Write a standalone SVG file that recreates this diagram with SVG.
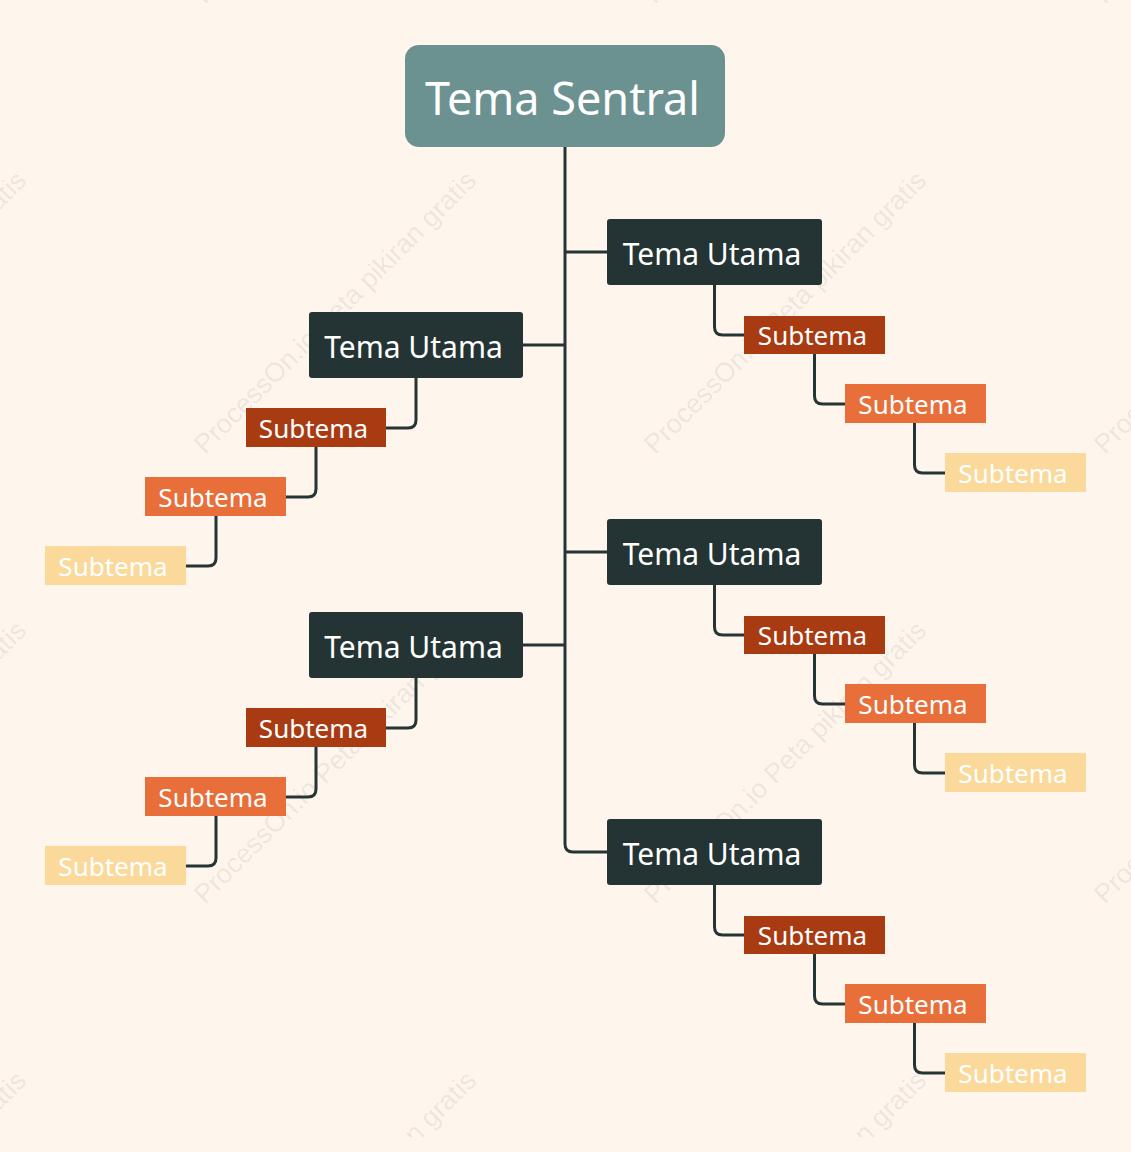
<svg xmlns="http://www.w3.org/2000/svg" width="1131" height="1152" viewBox="0 0 1131 1152">
<style>
.wm{font-family:"Liberation Sans",Arial,sans-serif;font-size:27px;fill:#000;fill-opacity:0.08}
.central{fill:#6b9290}
.main{fill:#243434}
.s1{fill:#a93b12}
.s2{fill:#e86e3a}
.s3{fill:#fad99b}
.t{font-family:"Noto Sans","Open Sans",sans-serif;fill:#ffffff;text-anchor:middle}
.tc{font-size:45px}
.tm{font-size:30px}
.ts{font-size:26px}
.ln{fill:none;stroke:#253535;stroke-width:3}
</style>
<defs><clipPath id="wmclip"><rect x="0" y="0" width="1131" height="1137"/></clipPath></defs>
<rect width="1131" height="1152" fill="#fef5ed"/>
<g id="watermarks" clip-path="url(#wmclip)">
<text class="wm" transform="translate(-245,5) rotate(-45)">ProcessOn.io Peta pikiran gratis</text>
<text class="wm" transform="translate(205,5) rotate(-45)">ProcessOn.io Peta pikiran gratis</text>
<text class="wm" transform="translate(655,5) rotate(-45)">ProcessOn.io Peta pikiran gratis</text>
<text class="wm" transform="translate(1105,5) rotate(-45)">ProcessOn.io Peta pikiran gratis</text>
<text class="wm" transform="translate(-245,455) rotate(-45)">ProcessOn.io Peta pikiran gratis</text>
<text class="wm" transform="translate(205,455) rotate(-45)">ProcessOn.io Peta pikiran gratis</text>
<text class="wm" transform="translate(655,455) rotate(-45)">ProcessOn.io Peta pikiran gratis</text>
<text class="wm" transform="translate(1105,455) rotate(-45)">ProcessOn.io Peta pikiran gratis</text>
<text class="wm" transform="translate(-245,905) rotate(-45)">ProcessOn.io Peta pikiran gratis</text>
<text class="wm" transform="translate(205,905) rotate(-45)">ProcessOn.io Peta pikiran gratis</text>
<text class="wm" transform="translate(655,905) rotate(-45)">ProcessOn.io Peta pikiran gratis</text>
<text class="wm" transform="translate(1105,905) rotate(-45)">ProcessOn.io Peta pikiran gratis</text>
<text class="wm" transform="translate(-245,1355) rotate(-45)">ProcessOn.io Peta pikiran gratis</text>
<text class="wm" transform="translate(205,1355) rotate(-45)">ProcessOn.io Peta pikiran gratis</text>
<text class="wm" transform="translate(655,1355) rotate(-45)">ProcessOn.io Peta pikiran gratis</text>
</g>
<g id="connectors">
<path class="ln" d="M565,147 V844 Q565,852 573,852 H607"/>
<path class="ln" d="M565,252 H607 M523,345 H565 M565,552 H607 M523,645 H565"/>
<path class="ln" d="M714.5,285 V327 Q714.5,335 722.5,335 H744 M814.5,354 V396 Q814.5,404 822.5,404 H845 M914.5,423 V465 Q914.5,473 922.5,473 H945"/>
<path class="ln" d="M714.5,585 V627 Q714.5,635 722.5,635 H744 M814.5,654 V696 Q814.5,704 822.5,704 H845 M914.5,723 V765 Q914.5,773 922.5,773 H945"/>
<path class="ln" d="M714.5,885 V927 Q714.5,935 722.5,935 H744 M814.5,954 V996 Q814.5,1004 822.5,1004 H845 M914.5,1023 V1065 Q914.5,1073 922.5,1073 H945"/>
<path class="ln" d="M416,378 V420 Q416,428 408,428 H386 M316,447 V489 Q316,497 308,497 H286 M216,516 V558 Q216,566 208,566 H186"/>
<path class="ln" d="M416,678 V720 Q416,728 408,728 H386 M316,747 V789 Q316,797 308,797 H286 M216,816 V858 Q216,866 208,866 H186"/>
</g>
<g id="central"><rect class="central" x="405" y="45" width="320" height="102" rx="14"/><text class="t tc" x="562.5" y="115">Tema Sentral</text></g>
<g id="r1"><rect class="main" x="607" y="219" width="215" height="66" rx="3"/><text class="t tm" x="712" y="265">Tema Utama</text></g>
<g id="r1s1"><rect class="s1" x="744" y="316" width="141" height="38"/><text class="t ts" x="812.5" y="345">Subtema</text></g>
<g id="r1s2"><rect class="s2" x="845" y="384" width="141" height="39"/><text class="t ts" x="913" y="414">Subtema</text></g>
<g id="r1s3"><rect class="s3" x="945" y="453" width="141" height="39"/><text class="t ts" x="1013" y="483">Subtema</text></g>
<g id="r2"><rect class="main" x="607" y="519" width="215" height="66" rx="3"/><text class="t tm" x="712" y="565">Tema Utama</text></g>
<g id="r2s1"><rect class="s1" x="744" y="616" width="141" height="38"/><text class="t ts" x="812.5" y="645">Subtema</text></g>
<g id="r2s2"><rect class="s2" x="845" y="684" width="141" height="39"/><text class="t ts" x="913" y="714">Subtema</text></g>
<g id="r2s3"><rect class="s3" x="945" y="753" width="141" height="39"/><text class="t ts" x="1013" y="783">Subtema</text></g>
<g id="r3"><rect class="main" x="607" y="819" width="215" height="66" rx="3"/><text class="t tm" x="712" y="865">Tema Utama</text></g>
<g id="r3s1"><rect class="s1" x="744" y="916" width="141" height="38"/><text class="t ts" x="812.5" y="945">Subtema</text></g>
<g id="r3s2"><rect class="s2" x="845" y="984" width="141" height="39"/><text class="t ts" x="913" y="1014">Subtema</text></g>
<g id="r3s3"><rect class="s3" x="945" y="1053" width="141" height="39"/><text class="t ts" x="1013" y="1083">Subtema</text></g>
<g id="l1"><rect class="main" x="309" y="312" width="214" height="66" rx="3"/><text class="t tm" x="413.5" y="358">Tema Utama</text></g>
<g id="l1s1"><rect class="s1" x="246" y="408" width="140" height="39"/><text class="t ts" x="313.5" y="438">Subtema</text></g>
<g id="l1s2"><rect class="s2" x="145" y="477" width="141" height="39"/><text class="t ts" x="213" y="507">Subtema</text></g>
<g id="l1s3"><rect class="s3" x="45" y="546" width="141" height="39"/><text class="t ts" x="113" y="576">Subtema</text></g>
<g id="l2"><rect class="main" x="309" y="612" width="214" height="66" rx="3"/><text class="t tm" x="413.5" y="658">Tema Utama</text></g>
<g id="l2s1"><rect class="s1" x="246" y="708" width="140" height="39"/><text class="t ts" x="313.5" y="738">Subtema</text></g>
<g id="l2s2"><rect class="s2" x="145" y="777" width="141" height="39"/><text class="t ts" x="213" y="807">Subtema</text></g>
<g id="l2s3"><rect class="s3" x="45" y="846" width="141" height="39"/><text class="t ts" x="113" y="876">Subtema</text></g>
</svg>
